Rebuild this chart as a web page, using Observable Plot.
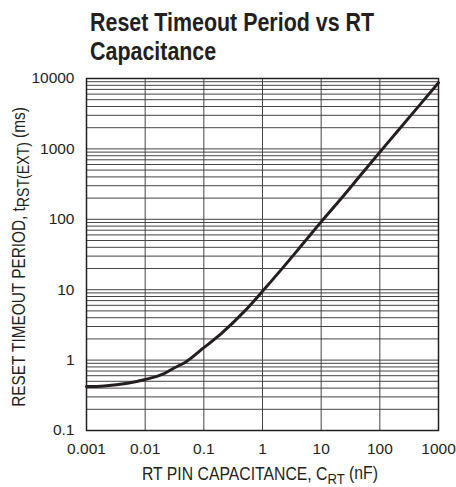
<!DOCTYPE html>
<html><head><meta charset="utf-8">
<script src="https://cdn.jsdelivr.net/npm/d3@7"></script>
<script src="https://cdn.jsdelivr.net/npm/@observablehq/plot@0.6"></script>
<style>
body{margin:0;background:#fff;}
#wrap{position:relative;width:456px;height:487px;}
#wrap svg{position:absolute;left:0;top:0;overflow:visible;}
.title{position:absolute;left:90px;z-index:2;font-family:"Liberation Sans",Arial,sans-serif;font-weight:bold;font-size:25.5px;line-height:28.5px;color:#231f20;white-space:nowrap;transform:scaleX(0.84);transform-origin:0 0;}
</style></head><body>
<div id="wrap"><div class="title" style="top:8.4px">Reset Timeout Period vs RT</div><div class="title" style="top:37px">Capacitance</div></div>
<script>
const capacitance = [0.001, 0.002, 0.005, 0.01, 0.02, 0.03, 0.05, 0.1, 0.2, 0.5, 1, 2, 5, 10, 20, 50, 100, 200, 500, 1000];
const period      = [0.42, 0.43, 0.47, 0.53, 0.63, 0.76, 0.95, 1.5, 2.4, 5.0, 9.5, 18.5, 46, 92, 180, 450, 900, 1780, 4400, 8700];
const xTicks = [0.001, 0.01, 0.1, 1, 10, 100, 1000];
const yTicks = [0.1, 1, 10, 100, 1000, 10000];
const xLabel = "RT PIN CAPACITANCE, C";
const xLabelSub = "RT";
const xLabelEnd = " (nF)";
const yLabel = "RESET TIMEOUT PERIOD, t";
const yLabelSub = "RST(EXT)";
const yLabelEnd = " (ms)";

const yGrid = yTicks.slice(0, -1).flatMap(d => [1,2,3,4,5,6,7,8,9].map(k => d * k)).concat([10000]);
const data = capacitance.map((c, i) => ({c, t: period[i]}));
const font = '"Liberation Sans",Arial,sans-serif';
const ink = "#231f20";

const chart = Plot.plot({
  width: 456, height: 487,
  marginTop: 78, marginBottom: 57, marginLeft: 86, marginRight: 18,
  x: {type: "log", domain: [0.001, 1000]},
  y: {type: "log", domain: [0.1, 10000]},
  style: {fontFamily: font, fontSize: "15.5px", color: ink, background: "#fff"},
  marks: [
    Plot.gridY(yGrid, {stroke: "#444", strokeOpacity: 1, strokeWidth: 1}),
    Plot.gridX(xTicks, {stroke: "#444", strokeOpacity: 1, strokeWidth: 1}),
    Plot.line(data, {x: "c", y: "t", stroke: ink, strokeWidth: 3, curve: "monotone-x"}),
    Plot.frame({stroke: ink, strokeWidth: 1.5}),
    Plot.axisX(xTicks, {tickSize: 0, tickPadding: 12, tickFormat: d => String(d), label: null, fill: ink}),
    Plot.axisY(yTicks, {tickSize: 0, tickPadding: 12, tickFormat: d => String(d), label: null, fill: ink})
  ]
});
document.getElementById("wrap").appendChild(chart);

const svg = d3.select(chart);
const xl = svg.append("text").attr("transform", "translate(260,480) scale(0.877,1)").attr("text-anchor", "middle")
  .attr("font-family", font).attr("font-size", 18).attr("fill", ink);
xl.append("tspan").text(xLabel);
xl.append("tspan").attr("dy", "0.25em").attr("font-size", 15).text(xLabelSub);
xl.append("tspan").attr("dy", "-0.25em").text(xLabelEnd);

const yl = svg.append("text").attr("transform", "translate(25,257) rotate(-90) scale(0.83,1)").attr("text-anchor", "middle")
  .attr("font-family", font).attr("font-size", 18.5).attr("fill", ink);
yl.append("tspan").text(yLabel);
yl.append("tspan").attr("dy", "0.22em").attr("font-size", 17).text(yLabelSub);
yl.append("tspan").attr("dy", "-0.22em").text(yLabelEnd);
</script>
</body></html>
